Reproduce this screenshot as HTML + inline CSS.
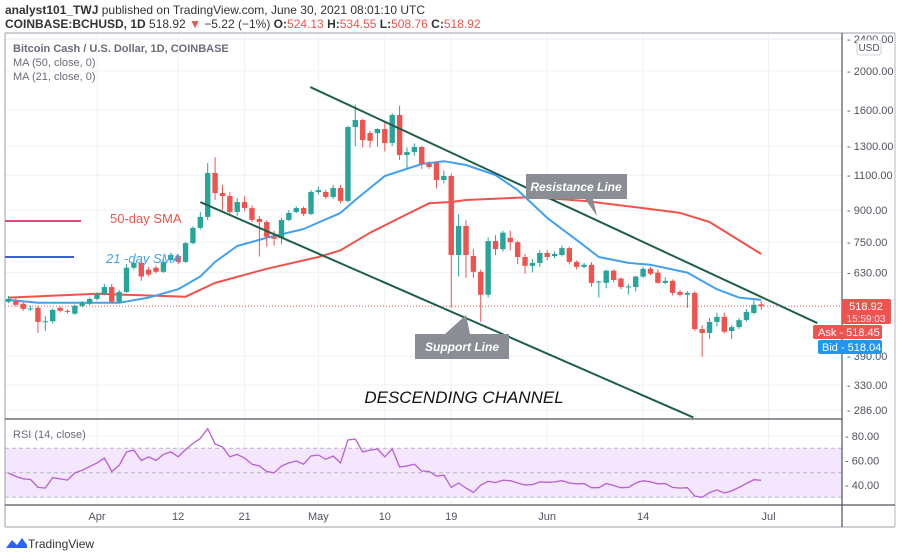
<!DOCTYPE html>
<html><head><meta charset="utf-8"><style>
html,body{margin:0;padding:0;background:#fff;}
svg{display:block;font-family:"Liberation Sans",sans-serif;}
</style></head><body>
<svg id="chart" width="900" height="558" viewBox="0 0 900 558">
  <text x="5" y="14" font-size="12" fill="#333"><tspan font-weight="bold">analyst101_TWJ</tspan> published on TradingView.com, June 30, 2021 08:01:10 UTC</text>
  <text x="5" y="28" font-size="12" fill="#333"><tspan font-weight="bold">COINBASE:BCHUSD, 1D</tspan> 518.92 <tspan fill="#ef5350">▼</tspan> −5.22 (−1%) <tspan font-weight="bold">O:</tspan><tspan fill="#ef5350">524.13</tspan> <tspan font-weight="bold">H:</tspan><tspan fill="#ef5350">534.55</tspan> <tspan font-weight="bold">L:</tspan><tspan fill="#ef5350">508.76</tspan> <tspan font-weight="bold">C:</tspan><tspan fill="#ef5350">518.92</tspan></text>
  <g id="grid"></g>
  <g id="rsiband"></g>
  <g id="ma"></g>
  <g id="candles"></g>
  <g id="trend"></g>
  <g id="rsi"></g>
  <g id="axes"></g>
</svg>
<script>
const tickDays=[0,11,20,30,39,48,61,74,91];
const tickLabels=["Apr","12","21","May","10","19","Jun","14","Jul"];
const priceTicks=[2400,2000,1600,1300,1100,900,750,630,390,330,286];
const rsiTicks=[80,60,40];
const startDay=-12;
const opens=[532,535,526,511,514,474,476,514,505,497,520,526,541,557,579,532,563,647,665,640,647,632,676,692,669,745,813,866,1114,993,976,891,943,911,856,841,773,768,851,891,911,881,999,999,971,1022,949,1450,1510,1401,1400,1434,1323,1554,1235,1257,1293,1173,1180,1070,1095,696,822,692,632,554,754,720,768,749,688,654,665,704,692,696,724,669,650,658,596,593,636,608,579,579,615,643,629,593,600,563,554,560,455,445,474,488,450,460,479,499,524.13];
const highs=[550,545,530,520,520,490,512,518,510,524,535,545,562,590,590,570,660,680,675,650,655,680,705,700,750,820,890,1180,1220,1040,1000,965,975,925,870,850,800,860,900,920,920,1010,1030,1010,1040,1040,1460,1650,1520,1420,1440,1500,1570,1640,1290,1320,1300,1190,1185,1130,1110,880,850,720,640,770,780,800,800,755,700,680,715,715,710,735,730,675,665,668,600,640,640,612,590,618,650,650,640,612,605,570,565,565,465,485,500,500,466,485,510,536,534.55];
const lows=[528,518,505,505,445,450,470,500,498,494,515,522,536,552,528,528,560,640,600,615,626,628,670,660,665,740,805,850,955,900,880,870,895,840,690,730,735,740,845,885,870,875,985,960,960,935,940,1300,1290,1290,1295,1260,1300,1200,1140,1230,1140,1140,1020,1050,514,615,610,610,474,545,695,710,715,660,625,630,650,675,685,690,660,640,645,580,545,575,595,572,555,565,610,620,590,588,552,548,514,450,388,430,462,444,430,455,475,495,508.76];
const closes=[541,523,511,512,474,476,508,505,504,520,529,541,557,579,532,563,647,665,615,622,632,669,696,669,745,813,866,1114,993,976,891,943,911,851,841,773,764,851,886,911,881,999,1010,971,1022,949,1450,1510,1346,1340,1434,1323,1554,1235,1257,1293,1173,1153,1070,1095,696,822,696,632,554,754,720,791,749,688,654,665,704,688,700,724,669,650,658,593,598,636,603,579,581,615,643,625,593,600,560,554,560,455,445,474,488,448,460,479,502,523,518.92];
const rsiValues=[49.8,47,45,44.5,38,37.5,46,45,44,50,52,55,58,62,51,56,67,68.5,60,63,60,65,67,63,69,74,78,86,73.5,71,63,65,62,57,55.5,51,50,55.5,58,59.6,57,63.7,64.5,61,63.7,58,76.7,77.5,67,68.5,69.4,63,69.4,54.7,55.5,57,51.4,51,47.3,48,38,41.6,37.5,34,40,43,42,44,43.5,41.6,40,40.3,42.5,42.2,42.5,43.5,41.6,41,41.2,37.8,37.8,41.2,39.6,37.8,38,41.6,43.5,42.5,41,41.2,38,37.5,37.8,31,30,33.8,36,33.5,35.2,38,41.2,44.3,43.8];
const ma21Days=[-12,-8,3,7,11,14,16,19,23,28,33,35,39,44,47,50,54,57,61,65,68,72,75,80,84,87,90];
const ma21Values=[538,529,529,545,572,615,669,733,768,808,886,954,1095,1173,1192,1166,1101,1010,861,758,688,665,658,629,572,545,538];
const ma50Days=[-12,0,12,16,23,30,33,37,41,45,48,50,59,66,74,79,83,90];
const ma50Values=[545,557,548,593,643,688,715,791,861,936,943,954,970,949,911,886,841,700];
const resistDays=[28.9,97.6], resistPrices=[1824,471];
const supportDays=[14,80.8], supportPrices=[943,274];

const NS="http://www.w3.org/2000/svg";
const X0=5,X1=842,PT=33,PB=419,RB=505,TB=527;
function xDay(d){return 97+d*7.38;}
function yP(p){return 71+Math.log(2000/p)*174.3;}
function yR(v){return 485-(v-40)*1.225;}
function mk(parent,tag,attrs){const e=document.createElementNS(NS,tag);for(const k in attrs)e.setAttribute(k,attrs[k]);document.getElementById(parent).appendChild(e);return e;}

tickDays.forEach(d=>{const x=xDay(d);
 const l=mk('grid','line',{x1:x,x2:x,y1:PT,y2:RB,stroke:'#eef1f6','stroke-width':1});
 
 });
priceTicks.forEach(p=>{const y=yP(p);
 const l=mk('grid','line',{x1:X0,x2:X1,y1:y,y2:y,stroke:'#eef1f6','stroke-width':1});
 
 });
rsiTicks.forEach(v=>{const y=yR(v);
 const l=mk('grid','line',{x1:X0,x2:X1,y1:y,y2:y,stroke:'#eef1f6','stroke-width':1});
 
 });
{const r=mk('rsiband','rect',{x:X0,y:yR(70),width:X1-X0,height:yR(30)-yR(70),fill:'#f3e6fd'});
 
 
 [70,50,30].forEach(v=>{const l=mk('rsiband','line',{x1:X0,x2:X1,y1:yR(v),y2:yR(v),stroke:'#b8b8c0','stroke-dasharray':'4,3','stroke-width':1});
 
 });}
{const l=mk('grid','line',{x1:X0,x2:X1,y1:yP(518.92),y2:yP(518.92),stroke:'#ef5350','stroke-dasharray':'1,2','stroke-width':1});
 
 }
function poly(days,vals,color,name){const pts=days.map((d,i)=>xDay(d).toFixed(1)+','+yP(vals[i]).toFixed(1)).join(' ');
 const e=mk('ma','polyline',{points:pts,fill:'none',stroke:color,'stroke-width':2,'stroke-linejoin':'round'});
 
 }
poly(ma50Days,ma50Values,'#f0524a','ma50-line');
poly(ma21Days,ma21Values,'#42a1f0','ma21-line');
opens.forEach((o,i)=>{const d=startDay+i,x=xDay(d),c=closes[i],up=c>=o,col=up?'#26a69a':'#ef5350';
 const w=mk('candles','line',{x1:x,x2:x,y1:yP(highs[i]),y2:yP(lows[i]),stroke:col,'stroke-width':1});
 
 
 const yt=yP(Math.max(o,c)),yb=yP(Math.min(o,c));
 const b=mk('candles','rect',{x:x-2.7,y:yt,width:5.4,height:Math.max(1,yb-yt),fill:col});
 
 });
function tl(days,prices,name){const e=mk('trend','line',{x1:xDay(days[0]),y1:yP(prices[0]),x2:xDay(days[1]),y2:yP(prices[1]),stroke:'#1f5f4a','stroke-width':2});
 
 }
tl(resistDays,resistPrices,'resistance-trendline');
tl(supportDays,supportPrices,'support-trendline');
{const pts=rsiValues.map((v,i)=>xDay(startDay+i).toFixed(1)+','+yR(v).toFixed(1)).join(' ');
 const e=mk('rsi','polyline',{points:pts,fill:'none',stroke:'#b85fd0','stroke-width':1.3});
 
 }
function ln(a,n){const e=mk('axes','line',a);}
ln({x1:X0,x2:895,y1:PT,y2:PT,stroke:'#9aa0aa'},'frame-top');
ln({x1:X0,x2:X0,y1:PT,y2:TB,stroke:'#9aa0aa'},'frame-left');
ln({x1:895,x2:895,y1:PT,y2:TB,stroke:'#b0b4bc'},'frame-right');
ln({x1:X0,x2:895,y1:TB,y2:TB,stroke:'#9aa0aa'},'frame-bottom');
ln({x1:X0,x2:X1,y1:PB,y2:PB,stroke:'#50535e','stroke-width':1.2},'pane-divider');
ln({x1:X0,x2:895,y1:RB,y2:RB,stroke:'#50535e','stroke-width':1.2},'time-axis-line');
ln({x1:X1,x2:X1,y1:PT,y2:TB,stroke:'#50535e','stroke-width':1.2},'price-axis-line');
priceTicks.forEach(p=>{const y=yP(p);
 const t=mk('axes','text',{x:847,y:y+4,'font-size':11,fill:'#50535e'});t.textContent='- '+p.toFixed(2);
 
 });
rsiTicks.forEach(v=>{const y=yR(v);
 const t=mk('axes','text',{x:845,y:y+4,'font-size':11,fill:'#50535e'});t.textContent='- '+v.toFixed(2);
 
 });
tickDays.forEach((d,i)=>{const t=mk('axes','text',{x:xDay(d),y:520,'font-size':11,fill:'#50535e','text-anchor':'middle'});t.textContent=tickLabels[i];
 
 });
</script>
<svg width="900" height="558" style="position:absolute;left:0;top:0;font-family:'Liberation Sans',sans-serif">
  <rect x="857" y="40" width="24" height="15" rx="3" fill="#fff" stroke="#d0d3da"/>
  <text x="869" y="51" font-size="10" fill="#50535e" text-anchor="middle">USD</text>
  <text x="13" y="52" font-size="11" font-weight="bold" fill="#6a6d78">Bitcoin Cash / U.S. Dollar, 1D, COINBASE</text>
  <text x="13" y="66" font-size="11" fill="#6a6d78">MA (50, close, 0)</text>
  <text x="13" y="80" font-size="11" fill="#6a6d78">MA (21, close, 0)</text>
  <line x1="5" y1="221" x2="81" y2="221" stroke="#e8447c" stroke-width="2"/>
  <text x="110" y="223" font-size="13" fill="#f0524a">50-day SMA</text>
  <line x1="5" y1="257" x2="74" y2="257" stroke="#3a5fd0" stroke-width="2"/>
  <text x="106" y="263" font-size="13" fill="#42a1f0" font-style="italic">21 -day SMA</text>
  <path d="M526,174 h101 v25 h-34 l4,17 l-12,-17 h-59 z" fill="#8a8d93"/>
  <text x="576" y="191" font-size="12" font-weight="bold" font-style="italic" fill="#fff" text-anchor="middle">Resistance Line</text>
  <path d="M415,334 h30 l21,-19 l4,19 h39 v25 h-94 z" fill="#8a8d93"/>
  <text x="462" y="351" font-size="12" font-weight="bold" font-style="italic" fill="#fff" text-anchor="middle">Support Line</text>
  <text x="464" y="403" font-size="17" font-style="italic" fill="#111" text-anchor="middle">DESCENDING CHANNEL</text>
  <rect x="842" y="299" width="49" height="25" rx="2" fill="#ef5350"/>
  <text x="866" y="310" font-size="11" fill="#fff" text-anchor="middle">518.92</text>
  <text x="866" y="322" font-size="10" fill="#fde" text-anchor="middle">15:59:03</text>
  <rect x="813" y="325" width="69" height="14" rx="2" fill="#ef5350"/>
  <text x="818" y="336" font-size="11" fill="#fff">Ask - 518.45</text>
  <rect x="818" y="340" width="64" height="14" rx="2" fill="#2196f3"/>
  <text x="822" y="351" font-size="11" fill="#fff">Bid - 518.04</text>
  <text x="13" y="438" font-size="11" fill="#6a6d78">RSI (14, close)</text>
  <path d="M6,548 l6,-8 l5,5 l5,-7 l5,7 v3 z" fill="#2962ff"/>
  <text x="28" y="548" font-size="12" fill="#333">TradingView</text>
</svg>
</body></html>
